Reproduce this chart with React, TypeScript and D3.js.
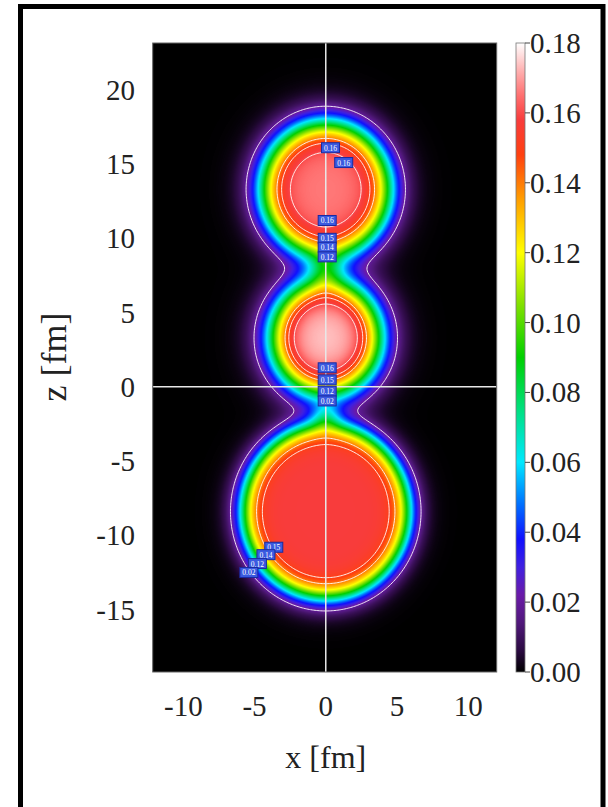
import React, { useMemo } from 'react';
import * as d3 from 'd3';

const W = 608;
const H = 807;

// three clusters along z, Woods-Saxon shape
const clusterZ = [13.3, 3.3, -8.4];
const clusterRadius = [4.42, 3.75, 5.8];
const clusterDiffuse = [0.59, 0.63, 0.46];
const clusterRho0 = [0.166, 0.174, 0.158];

// extra density sitting in the two necks
const neckZ = [7.9, -2.0];
const neckRho = [0.03, 0.028];
const neckWidthX = [1.1, 1.0];
const neckWidthZ = [1.2, 0.9];

const contourLevels = [0.02, 0.14, 0.15, 0.16];

const xTicks = [-10, -5, 0, 5, 10];
const zTicks = [-15, -10, -5, 0, 5, 10, 15, 20];
const cbTicks = [0, 0.02, 0.04, 0.06, 0.08, 0.1, 0.12, 0.14, 0.16, 0.18];

// colour map of the bar
const cmapStops = [0, 0.006, 0.014, 0.022, 0.03, 0.038, 0.048, 0.06, 0.075, 0.09, 0.105, 0.12, 0.135, 0.148, 0.158, 0.165, 0.172, 0.18];
const cmapColors = ['#000000', '#2a0a40', '#50187a', '#6a1aa8', '#4020e0', '#1010ff', '#0070ff', '#00e8ff', '#00e080', '#00d000', '#80e000', '#ffff00', '#ffa000', '#ff4010', '#f83c3c', '#ff7070', '#ffb0b0', '#ffffff'];

// little contour labels in the plot
const labelText = ['0.16', '0.16', '0.16', '0.15', '0.14', '0.12', '0.16', '0.15', '0.12', '0.02', '0.15', '0.14', '0.12', '0.02'];
const labelX = [0.33, 1.26, 0.1, 0.1, 0.1, 0.1, 0.1, 0.1, 0.1, 0.1, -3.65, -4.2, -4.8, -5.4];
const labelZ = [16.1, 15.1, 11.2, 10.0, 9.4, 8.75, 1.28, 0.47, -0.3, -0.95, -10.8, -11.3, -11.9, -12.5];

const serif = "'Liberation Serif', 'DejaVu Serif', serif";

function density(x: number, z: number) {
  let s = 0;
  for (let i = 0; i < clusterZ.length; i++) {
    const r = Math.hypot(x, z - clusterZ[i]);
    s += clusterRho0[i] / (1 + Math.exp((r - clusterRadius[i]) / clusterDiffuse[i]));
  }
  for (let i = 0; i < neckZ.length; i++) {
    const u = x / neckWidthX[i], v = (z - neckZ[i]) / neckWidthZ[i];
    s += neckRho[i] * Math.exp(-(u * u + v * v));
  }
  return s;
}

export default function App() {
  const xDom = [-12.15, 12.0];
  const zDom = [-19.2, 23.15];
  const left = 152.7, right = 496.7, top = 43, bottom = 672;
  const x = d3.scaleLinear().domain(xDom).range([left, right]);
  const y = d3.scaleLinear().domain(zDom).range([bottom, top]);
  const color = d3.scaleLinear<string>().domain(cmapStops).range(cmapColors).interpolate(d3.interpolateRgb).clamp(true);

  const img = useMemo(() => {
    const w = Math.round(right - left), h = Math.round(bottom - top);
    const lut = d3.range(0, 1001).map(k => d3.rgb(color((k / 1000) * 0.18)));
    const canvas = document.createElement('canvas');
    canvas.width = w;
    canvas.height = h;
    const ctx = canvas.getContext('2d')!;
    const im = ctx.createImageData(w, h);
    for (let py = 0; py < h; py++) {
      const zv = y.invert(top + py + 0.5);
      for (let px = 0; px < w; px++) {
        const xv = x.invert(left + px + 0.5);
        const v = density(xv, zv);
        const c = lut[Math.max(0, Math.min(1000, Math.round((v / 0.18) * 1000)))];
        const o = (py * w + px) * 4;
        im.data[o] = c.r;
        im.data[o + 1] = c.g;
        im.data[o + 2] = c.b;
        im.data[o + 3] = 255;
      }
    }
    ctx.putImageData(im, 0, 0);
    return canvas.toDataURL();
  }, []);

  const contourPaths = useMemo(() => {
    const dx = 0.1;
    const nx = Math.ceil((xDom[1] - xDom[0]) / dx) + 1;
    const nz = Math.ceil((zDom[1] - zDom[0]) / dx) + 1;
    const values = new Array(nx * nz);
    for (let j = 0; j < nz; j++)
      for (let i = 0; i < nx; i++)
        values[j * nx + i] = density(xDom[0] + i * dx, zDom[0] + j * dx);
    const cs = d3.contours().size([nx, nz]).thresholds(contourLevels)(values);
    const proj = d3.geoTransform({
      point(gx: number, gy: number) {
        (this as any).stream.point(x(xDom[0] + (gx - 0.5) * dx), y(zDom[0] + (gy - 0.5) * dx));
      },
    });
    const path = d3.geoPath(proj);
    return cs.map(c => path(c as any));
  }, []);

  const cbX = 516, cbW = 9;
  const cb = d3.scaleLinear().domain([0, 0.18]).range([bottom, top]);

  return (
    <svg width={W} height={H} style={{ position: 'absolute', left: 0, top: 0, background: '#fff' }}>
      <defs>
        <clipPath id="plotclip">
          <rect x={left} y={top} width={right - left} height={bottom - top} />
        </clipPath>
        <linearGradient id="cbgrad" x1="0" y1="1" x2="0" y2="0">
          {cmapStops.map((s, i) => (
            <stop key={i} offset={s / 0.18} stopColor={cmapColors[i]} />
          ))}
        </linearGradient>
      </defs>
      <rect x={20.5} y={6.5} width={582.5} height={830} fill="none" stroke="#000" strokeWidth={5} />

      <image href={img} x={left} y={top} width={right - left} height={bottom - top} preserveAspectRatio="none" />
      <g clipPath="url(#plotclip)">
        {contourPaths.map((d, i) => (
          <path key={i} d={d || ''} fill="none" stroke="#fff" strokeWidth={1} strokeOpacity={0.9} />
        ))}
        <line x1={x(0)} x2={x(0)} y1={top} y2={bottom} stroke="#e8e8e8" strokeWidth={1.5} />
        <line x1={left} x2={right} y1={y(0)} y2={y(0)} stroke="#e8e8e8" strokeWidth={1.5} />
        {labelText.map((t, i) => (
          <g key={i} transform={`translate(${x(labelX[i])},${y(labelZ[i])})`}>
            <rect x={-9} y={-5} width={18} height={10} fill="#3a5ae0" stroke="#1a2aa0" strokeWidth={1} />
            <text x={0} y={3} textAnchor="middle" fontSize={7.5} fill="#fff" fontFamily={serif}>{t}</text>
          </g>
        ))}
      </g>
      <rect x={left} y={top} width={right - left} height={bottom - top} fill="none" stroke="#666" strokeWidth={1} />

      {xTicks.map(t => (
        <text key={t} x={x(t)} y={716} textAnchor="middle" fontSize={29} fontFamily={serif} fill="#222">{t}</text>
      ))}
      {zTicks.map(t => (
        <text key={t} x={135} y={y(t) + 10} textAnchor="end" fontSize={29} fontFamily={serif} fill="#222">{t}</text>
      ))}
      <text x={x(0)} y={768} textAnchor="middle" fontSize={32} fontFamily={serif} fill="#222">x [fm]</text>
      <text transform={`translate(66,357) rotate(-90)`} textAnchor="middle" fontSize={36} fontFamily={serif} fill="#222">z [fm]</text>

      <rect x={cbX} y={top} width={cbW} height={bottom - top} fill="url(#cbgrad)" stroke="#777" strokeWidth={0.8} />
      {cbTicks.map(t => (
        <g key={t}>
          <line x1={cbX + cbW} x2={cbX + cbW + 5} y1={cb(t)} y2={cb(t)} stroke="#444" strokeWidth={1} />
          <text x={cbX + cbW + 5} y={cb(t) + 10} fontSize={29} fontFamily={serif} fill="#222">{t.toFixed(2)}</text>
        </g>
      ))}
    </svg>
  );
}
